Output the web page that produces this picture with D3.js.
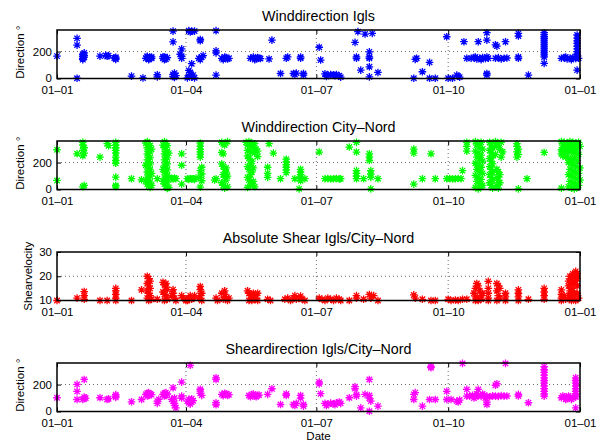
<!DOCTYPE html>
<html>
<head>
<meta charset="utf-8">
<script src="https://cdn.jsdelivr.net/npm/d3@7"></script>
<style>
  body { margin: 0; background: #fff; }
  svg text { font-family: "Liberation Sans", Arial, Helvetica, sans-serif; fill: #000; }
</style>
</head>
<body>
<svg id="chart" width="601" height="443"></svg>
<script>
// day of year (0 = 01-01), value
var igls = [
  [0,166],[14,298],[14,248],[14,2],
  [18,150],[18,165],[18,180],[19,190],[19,158],[18,140],[19,172],
  [30,166],[34,172],[36,170],[35,165],
  [41,150],[41,158],[41,142],[40,152],[52,18],[60,4],
  [62,150],[63,160],[64,145],[65,155],[66,150],[64,140],[63,165],[66,160],
  [70,12],[70,28],
  [74,150],[75,160],[76,145],[77,155],[75,140],[74,162],
  [81,352],[81,272],[81,30],[81,15],[82,8],[82,40],[83,22],
  [87,220],[87,165],[87,150],[86,180],
  [92,355],[94,352],[96,352],[93,345],
  [91,5],[92,18],[93,30],[94,10],[95,25],[96,5],[93,45],[92,60],[94,110],
  [100,290],[100,280],[99,150],[101,160],[100,140],[102,170],
  [111,355],[111,205],[111,190],[111,25],
  [115,150],[117,160],[119,145],[116,140],[118,155],[120,150],
  [135,150],[137,160],[139,145],[141,152],[138,140],[140,155],[142,148],
  [148,145],[150,285],[156,37],[160,150],[161,160],
  [165,37],[166,30],[167,40],[170,160],[170,150],[172,37],[172,25],
  [183,232],[184,137],
  [187,35],[189,25],[191,30],[193,28],[195,30],[197,20],[198,10],[188,15],[194,20],
  [208,268],[210,348],[209,150],[209,160],[212,62],[215,330],[220,335],
  [218,198],[218,160],[218,150],[218,87],[218,12],[224,45],
  [249,2],[250,142],[251,150],[255,50],[260,120],[260,2],[264,2],
  [272,310],[273,2],[276,2],[280,17],[281,10],[279,25],[284,273],[286,150],
  [289,150],[291,155],[293,145],[295,150],[297,155],[299,148],[301,150],[292,160],[296,140],[300,160],
  [294,273],[300,340],[300,285],[300,37],[300,25],
  [306,250],[307,240],[306,150],[308,155],[310,145],[312,150],[314,152],
  [313,273],[322,335],[322,315],[322,150],[322,160],[329,25],
  [340,340],[340,325],[340,310],[340,295],[340,280],[340,265],[340,250],[340,235],
  [340,220],[340,205],[340,190],[340,175],[340,160],[340,112],
  [352,150],[354,155],[356,145],[358,150],[360,155],[362,148],[364,150],[359,140],[355,160],[363,160],
  [363,323],[363,300],[363,280],[363,260],[363,240],[363,220],[363,200],[363,180],[363,62]
];

var cityNord = [
  [0,295],[0,67],[14,265],
  [18,350],[18,330],[19,310],[18,290],[19,270],[18,250],[19,30],[18,20],
  [30,240],[35,340],[36,325],
  [41,350],[41,330],[41,310],[41,290],[41,270],[41,240],[41,215],[41,195],[41,92],[41,30],[41,20],
  [52,80],[59,72],
  [63,355],[64,340],[65,325],[63,310],[64,295],[65,280],[63,265],[64,250],[65,235],[63,220],
  [64,205],[65,190],[63,175],[64,160],[65,145],[63,130],[64,115],[65,100],[63,85],[64,70],
  [65,55],[63,40],[64,25],[65,15],[62,345],[66,300],[62,180],[66,120],[62,60],[66,30],
  [70,80],
  [75,355],[76,340],[77,325],[75,310],[76,295],[77,280],[75,265],[76,250],[77,235],[75,220],
  [76,205],[77,190],[75,175],[76,160],[77,145],[75,130],[76,115],[77,100],[75,85],[76,70],
  [77,55],[75,40],[76,25],[77,8],[74,330],[78,270],[74,150],[78,90],[74,60],[78,15],
  [80,82],[81,78],[82,85],[83,80],[87,265],[87,180],[87,40],
  [91,80],[92,75],[93,82],[94,78],[95,80],[96,75],[97,85],
  [100,345],[100,320],[100,300],[100,280],[100,260],[100,240],[101,165],[100,140],[101,115],
  [100,90],[101,65],[100,17],
  [111,80],[110,70],
  [115,350],[116,340],[119,355],[117,330],[115,275],[116,265],
  [115,190],[116,170],[117,150],[118,130],[116,110],[117,90],[118,70],[115,50],[116,30],
  [117,10],[119,20],[119,100],[118,160],
  [132,350],[134,355],[136,345],[138,340],[133,330],[135,320],[137,310],[139,300],[133,290],
  [135,275],[138,270],[140,285],[140,245],[133,250],[134,230],[136,210],[135,190],[133,170],
  [134,150],[136,130],[135,110],[133,90],[134,70],[136,50],[135,30],[133,15],[137,60],[137,160],[138,20],
  [148,340],[147,165],[147,120],[147,90],[151,270],[156,80],
  [160,225],[160,205],[160,185],[160,165],[160,145],[160,125],[166,80],
  [170,150],[170,130],[170,110],[170,90],[170,65],[169,5],[173,80],[183,278],
  [187,80],[189,82],[191,78],[193,80],[195,82],[197,78],[198,80],
  [204,315],[209,350],[209,278],[209,140],[209,120],[209,100],[209,80],[214,80],
  [218,265],[218,240],[218,215],[219,140],[219,115],[219,90],[219,5],[224,80],
  [249,300],[249,270],[249,40],[255,80],[261,265],[264,80],
  [272,80],[274,82],[276,78],[278,80],[280,82],[282,80],[283,140],
  [286,350],[286,320],[286,285],
  [292,355],[294,345],[296,350],[293,330],[295,315],[297,300],[292,285],[294,270],[296,255],
  [293,240],[295,225],[297,210],[292,195],[294,180],[296,165],[293,150],[295,135],[297,120],
  [292,105],[294,90],[296,75],[293,60],[295,45],[297,30],[292,15],[294,5],[296,20],
  [302,350],[303,330],[304,310],[302,290],[303,270],[304,250],[302,230],[303,210],[304,190],
  [302,170],[303,150],[304,130],[302,110],[303,90],[304,70],[302,50],[303,30],[304,10],
  [306,355],[308,340],[310,350],[307,320],[309,300],[311,280],[306,260],[310,240],
  [307,150],[308,130],[309,110],[307,90],[308,70],[309,50],[307,30],[308,10],
  [321,340],[321,320],[322,300],[321,280],[322,260],[321,240],[322,5],
  [328,80],[340,275],
  [352,355],[354,350],[356,345],[358,355],[360,350],[362,345],[364,350],[353,330],[355,320],
  [357,310],[359,325],[361,315],[363,305],[352,295],[354,285],[356,275],[358,290],[360,270],
  [362,280],[364,260],[353,250],[355,240],[357,230],[359,220],[361,235],[363,215],[352,265],[365,320],
  [357,200],[359,190],[361,180],[363,170],[365,160],[358,150],[360,140],[362,130],[364,120],
  [357,110],[359,100],[361,90],[363,80],[365,70],[358,60],[360,50],[362,40],[364,30],
  [357,20],[359,10],[361,5],[363,15],[352,10]
];

var shearVel = [
  [0,10],[14,11],[19,13.7],[19,12],[19,10.5],[30,10],[35,10],
  [41,15],[41,14],[41,12.5],[41,11],[41,10],[52,10],[59,14.4],
  [63,20],[64,19],[65,18],[63,17],[64,16],[65,15],[63,14],[64,13],[65,12],[63,11],[64,10],[66,10.5],
  [70,10.5],
  [74,17.5],[75,16.5],[76,15.5],[77,14.5],[74,13.5],[75,12.5],[76,11.5],[77,10.5],[75,10],[76,17],
  [80,12],[81,14.5],[81,13],[82,11],[83,10],
  [87,12],[88,11],[90,10],[92,11],[93,12],[94,10.5],[95,11],[96,12],[91,10],
  [100,15.8],[100,14.5],[101,13],[100,12],[99,11],[101,10],
  [111,11],[112,10],
  [115,13],[117,14],[117,12.5],[118,11],[119,10],[116,10.5],[120,11],
  [133,14],[134,13],[135,12],[136,11],[137,13],[138,12],[139,11],[140,13],[134,10],[136,10],[138,10.5],[140,10],
  [147,10.5],[149,10],
  [159,10.5],[161,11],[163,10],[165,11],[166,12],[167,10.5],[169,11],[170,11.8],[171,10.5],[173,10],
  [183,11],[185,10.5],[187,10],[189,11],[191,10.5],[193,10],[195,11],[197,10.5],[198,10],
  [204,10],[209,12],[209,11],[214,10.5],[218,12.5],[219,11],[221,12],[224,10],
  [249,12.3],[250,11],[255,10.5],[261,10],[264,10],
  [273,10.5],[275,10],[278,10.2],[280,10],[283,10.5],[286,10.5],
  [291,13],[292,15],[293,17],[294,16],[295,14],[296,12],[293,11],[292,10],[294,10],[296,10.5],[297,13],[292,11.5],
  [301,17.9],[301,15],[301,13],[301,11],[301,10],
  [307,17],[308,16],[307,14],[308,12],[309,11],[307,10],[309,15],
  [313,13],[313,11.5],[313,10],
  [322,14.4],[322,13],[322,11.5],[322,10],[329,10.5],
  [340,15],[340,13.5],[340,12],[340,10.5],
  [352,14.4],[352,12.5],[352,11],[352,10],[354,12],[355,10.5],
  [357,18],[358,20],[359,19],[360,21],[361,20],[362,22],[363,21],[357,16],[358,14],[359,17],
  [360,15],[361,13],[362,18],[363,16],[357,12],[358,11],[359,10],[360,12],[361,11],[362,10],
  [363,13],[364,11],[363,19],[361,17],[359,13]
];

var shearDir = [
  [0,102],[14,201],[14,149],[14,89],[19,238],[19,107],[19,95],[18,90],[20,100],
  [30,102],[35,89],[36,95],[41,114],[41,125],[41,105],[52,72],[59,89],
  [62,127],[63,135],[64,120],[65,130],[66,125],[64,140],[63,115],
  [70,77],[70,60],[71,90],
  [74,127],[75,135],[76,120],[77,130],[75,115],[76,140],
  [81,176],[81,77],[82,60],[82,45],[83,27],[80,90],[82,100],
  [87,218],[87,114],[87,100],
  [91,77],[92,65],[93,85],[94,70],[95,80],[93,55],[92,90],[94,95],[93,343],
  [100,151],[100,165],[100,135],[101,120],
  [111,250],[111,238],[111,65],[111,50],
  [115,127],[117,135],[119,120],[116,118],[118,130],[120,125],
  [134,119],[136,125],[138,115],[140,120],[135,110],[137,130],[139,110],[141,122],
  [147,127],[150,169],[156,52],[160,119],[160,130],[165,52],[166,45],[167,60],
  [170,119],[170,100],[172,52],[172,40],
  [183,218],[183,205],[184,132],
  [187,60],[189,55],[191,62],[193,58],[195,65],[197,70],[198,60],[188,45],[194,50],
  [204,102],[208,184],[208,170],[209,114],[209,125],[212,27],[215,127],
  [218,238],[218,119],[218,100],[219,77],[218,2],[224,40],
  [249,127],[250,140],[249,89],[255,40],[261,325],[261,335],[260,89],[264,89],
  [272,150],[272,89],[275,89],[279,77],[280,70],[281,85],[283,357],
  [286,164],[286,114],
  [288,114],[290,120],[292,110],[294,118],[296,112],[298,120],[300,114],[302,110],[304,116],
  [306,114],[308,112],[310,118],[312,114],[314,115],[293,130],[297,130],[291,100],[299,100],
  [294,164],[300,52],[300,70],[307,206],[306,195],[313,357],
  [322,127],[322,115],[329,65],
  [340,333],[340,310],[340,290],[340,270],[340,250],[340,230],[340,210],[340,190],[340,170],
  [340,150],[340,130],[340,114],
  [352,102],[354,110],[356,95],[358,105],[360,100],[362,108],[355,90],[359,90],[353,115],[357,115],
  [362,250],[362,230],[362,210],[362,190],[362,170],[362,150],[362,130],[362,114],[362,27]
];

var titles = ["Winddirection Igls", "Winddirection City\u2013Nord",
              "Absolute Shear Igls/City\u2013Nord", "Sheardirection Igls/City\u2013Nord"];
var yLabels = ["Direction \u00b0", "Direction \u00b0", "Shearvelocity", "Direction \u00b0"];
var colors = ["#0000ff", "#00ff00", "#ff0000", "#ff00ff"];
var dirTicks = [0, 200];
var velTicks = [10, 20, 30];
var monthTicks = ["2010-01-01", "2010-04-01", "2010-07-01", "2010-10-01", "2011-01-01"];

var svg = d3.select("#chart");
var left = 57, right = 580, h = 48.5;
var tops = [30, 141, 252, 363];
var start = Date.UTC(2010, 0, 1);
function toDate(d) { return new Date(start + d * 864e5); }

var x = d3.scaleUtc()
  .domain([new Date(monthTicks[0]), new Date(monthTicks[4])])
  .range([0, right - left]);
var w = right - left;
var fmt = d3.utcFormat("%d\u2013%m");

var r = 3.8, a = r * 0.72;
var star = "M" + (-r) + ",0L" + r + ",0M0," + (-r) + "L0," + r +
  "M" + (-a) + "," + (-a) + "L" + a + "," + a + "M" + (-a) + "," + a + "L" + a + "," + (-a);

var panels = [
  {data: igls, dom: [0, 360], ticks: dirTicks},
  {data: cityNord, dom: [0, 360], ticks: dirTicks},
  {data: shearVel, dom: [10, 30], ticks: velTicks},
  {data: shearDir, dom: [0, 360], ticks: dirTicks}
];

panels.forEach(function(p, i) {
  var g = svg.append("g").attr("transform", "translate(" + left + "," + tops[i] + ")");
  var y = d3.scaleLinear().domain(p.dom).range([h, 0]);
  var xt = monthTicks.map(function(s) { return new Date(s); });

  // grid
  g.append("g").selectAll("line").data(p.ticks.filter(function(t) { return t != p.dom[0] && t != p.dom[1]; }))
    .join("line")
      .attr("x1", 0).attr("x2", w)
      .attr("y1", function(d) { return y(d); }).attr("y2", function(d) { return y(d); })
      .attr("stroke", "#444").attr("stroke-width", 0.8).attr("stroke-dasharray", "1,3");
  g.append("g").selectAll("line").data(xt.slice(1, 4))
    .join("line")
      .attr("x1", function(d) { return x(d); }).attr("x2", function(d) { return x(d); })
      .attr("y1", 0).attr("y2", h)
      .attr("stroke", "#444").attr("stroke-width", 0.8).attr("stroke-dasharray", "1,3");

  // axes, ticks inside like matlab
  var ax = g.append("g").attr("transform", "translate(0," + h + ")")
    .call(d3.axisBottom(x).tickValues(xt).tickFormat(fmt).tickSizeInner(-4).tickSizeOuter(0).tickPadding(7));
  ax.select(".domain").remove();
  ax.selectAll("text").attr("font-size", 11.5).attr("font-family", "Liberation Sans, Arial");
  ax.selectAll("line").attr("stroke-width", 1);

  var axTop = g.append("g")
    .call(d3.axisTop(x).tickValues(xt).tickFormat("").tickSizeInner(-4).tickSizeOuter(0));
  axTop.select(".domain").remove();

  var ay = g.append("g")
    .call(d3.axisLeft(y).tickValues(p.ticks).tickSizeInner(-4).tickSizeOuter(0).tickPadding(5));
  ay.select(".domain").remove();
  ay.selectAll("text").attr("font-size", 11.5).attr("font-family", "Liberation Sans, Arial")
    .attr("dy", "0.3em");

  var ayR = g.append("g").attr("transform", "translate(" + w + ",0)")
    .call(d3.axisRight(y).tickValues(p.ticks).tickFormat("").tickSizeInner(-4).tickSizeOuter(0));
  ayR.select(".domain").remove();

  // points
  g.append("g").selectAll("path").data(p.data)
    .join("path")
      .attr("transform", function(d) { return "translate(" + x(toDate(d[0])) + "," + y(d[1]) + ")"; })
      .attr("d", star)
      .attr("fill", "none")
      .attr("stroke", colors[i])
      .attr("stroke-width", 1.3);

  // box
  g.append("rect").attr("width", w).attr("height", h)
    .attr("fill", "none").attr("stroke", "#000").attr("stroke-width", 1.5);

  // title
  svg.append("text")
    .attr("x", left + w / 2).attr("y", tops[i] - 9)
    .attr("text-anchor", "middle").attr("font-size", 14.3)
    .text(titles[i]);

  // y label
  var lx = i == 2 ? 28 : 20;
  svg.append("text")
    .attr("transform", "translate(" + (lx + 4) + "," + (tops[i] + h / 2 + (i == 2 ? 0 : -2)) + ") rotate(-90)")
    .attr("text-anchor", "middle").attr("font-size", 11.5)
    .text(yLabels[i]);
});

svg.append("text")
  .attr("x", left + w / 2).attr("y", 440)
  .attr("text-anchor", "middle").attr("font-size", 11.5)
  .text("Date");
</script>
</body>
</html>
